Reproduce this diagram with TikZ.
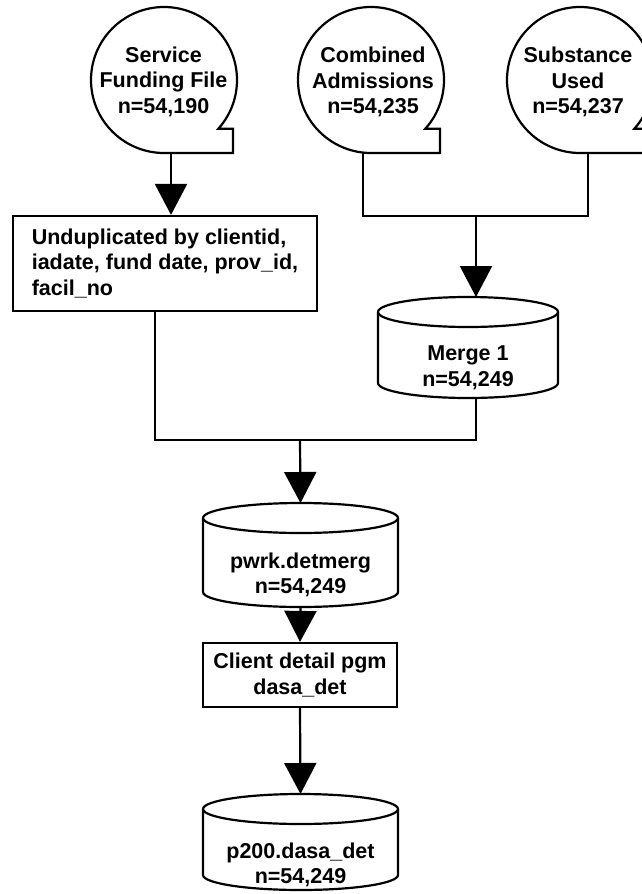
\documentclass[tikz,border=0pt]{standalone}
\usepackage{fontspec}
\setmainfont{Liberation Sans}
\usetikzlibrary{arrows.meta,calc}

\tikzset{
  flow/.style={line width=2.2pt, line join=miter},
  feed/.style={flow, -{Triangle[length=31pt,width=32pt]}},
  txt/.style={font=\fontsize{21.5}{25.5}\selectfont\bfseries, align=center, inner sep=0pt},
  procbox/.style={txt, draw, line width=2.2pt, inner sep=0pt},
}

% Sequential file: circle of radius 73 with a tail at the lower right.
% #1 = name, #2 = centre x, #3 = centre y, #4 = tail right offset
\newcommand\seqfile[4]{%
  \coordinate (#1-c) at (#2,#3);
  \draw[flow] ($(#1-c)+(42:73)$)
     arc[start angle=42, end angle=-270, radius=73pt]
     -- ++(#4,0) -- ++(0,-24.2) -- cycle;
}

% Storage drum: #1 = name, #2 = left x, #3 = right x, #4 = top y, #5 = bottom y
\newcommand\drum[5]{%
  \pgfmathsetmacro\drumcx{(#2+#3)/2}%
  \pgfmathsetmacro\drumrx{(#3-#2)/2}%
  \coordinate (#1-top) at (\drumcx,#4);
  \coordinate (#1-bot) at (\drumcx,#5);
  \draw[flow] (#2,#4+15) arc[start angle=180, end angle=-180, x radius=\drumrx pt, y radius=15pt];
  \draw[flow] (#2,#4+15) -- (#2,#5-15)
     arc[start angle=180, end angle=0, x radius=\drumrx pt, y radius=15pt]
     -- (#3,#4+15);
}

\begin{document}
\begin{tikzpicture}[x=1pt, y=1pt, yscale=-1]
  \useasboundingbox (0,0) rectangle (642,894);

  % source files
  \seqfile{svc}{164}{80}{69}
  \seqfile{comb}{371}{80}{69}
  \seqfile{subs}{580}{80}{69}
  \node[txt] (svctext)  at (163.5,81.5) {Service\\Funding File\\n=54,190};
  \node[txt] (combtext) at (373,82) {Combined\\Admissions\\n=54,235};
  \node[txt] (substext) at (578,82) {Substance\\Used\\n=54,237};

  \coordinate (svc-out)  at (171,153);
  \coordinate (comb-out) at (363,153);
  \coordinate (subs-out) at (588,153);

  % unduplication step
  \node[procbox, minimum width=304pt, minimum height=95pt, align=left] (undup) at (165,263.5)
    {Unduplicated by clientid,\\iadate, fund date, prov\_id,\\facil\_no};

  % merged data sets
  \drum{merge}{378}{558}{297}{398}
  \node[txt] (mergetext) at (468,368) {Merge 1\\n=54,249};

  \drum{pwrk}{203}{398}{503}{607}
  \node[txt] (pwrktext) at (300.5,575) {pwrk.detmerg\\n=54,249};

  \node[procbox, minimum width=194pt, minimum height=64pt] (client) at (300,675)
    {Client detail pgm\\dasa\_det};

  \drum{p200}{203}{398}{794}{890}
  \node[txt] (p200text) at (300.5,865) {p200.dasa\_det\\n=54,249};

  % junction points
  \coordinate (topjoin) at (476,216);
  \coordinate (midjoin) at (300,440);
  \coordinate (merge-out) at (476,398);

  % connectors
  \draw[feed] (svc-out) -- (svc-out |- undup.north);
  \draw[flow] (comb-out) |- (topjoin) -| (subs-out);
  \draw[feed] (topjoin) -- (topjoin |- merge-top);
  \draw[flow] (undup.south -| 155,0) |- (midjoin) -| (merge-out);
  \draw[feed] (midjoin) -- (pwrk-top);
  \draw[feed] (pwrk-bot) -- (client.north);
  \draw[feed] (client.south) -- (p200-top);
\end{tikzpicture}
\end{document}
